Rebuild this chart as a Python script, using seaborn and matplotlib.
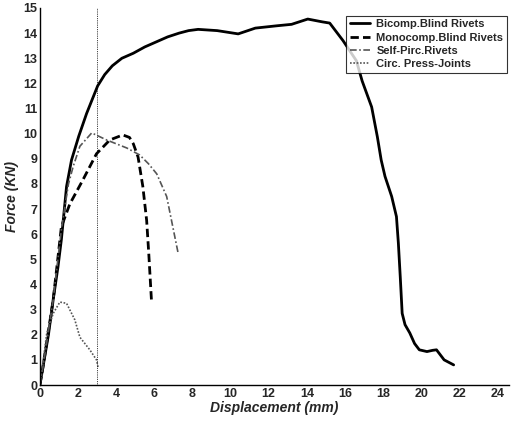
import numpy as np
import pandas as pd
import seaborn as sns
import matplotlib.pyplot as plt

# Bicomp. blind rivets
bicomp_x = [0, 0.16, 0.45, 0.7, 0.95, 1.13, 1.4, 1.66, 2.04, 2.45, 3.03, 3.4, 3.8, 4.3, 4.9,
            5.5, 6.1, 6.7, 7.3, 7.8, 8.3, 9.3, 10.4, 11.3, 12.4, 13.2, 14.05, 14.8, 15.2,
            15.9, 16.6, 16.9, 17.4, 17.7, 17.9, 18.1, 18.45, 18.7, 18.8, 18.9, 19.0, 19.15,
            19.4, 19.65, 19.9, 20.3, 20.6, 20.8, 21.0, 21.2, 21.7]
bicomp_y = [0, 0.7, 2.0, 3.4, 4.7, 5.8, 7.9, 8.95, 9.9, 10.8, 11.9, 12.35, 12.7, 13.0, 13.2,
            13.45, 13.65, 13.85, 14.0, 14.1, 14.15, 14.1, 13.97, 14.2, 14.29, 14.35, 14.56,
            14.45, 14.4, 13.7, 12.9, 12.1, 11.06, 9.87, 8.95, 8.3, 7.5, 6.7, 5.65, 4.3, 2.85,
            2.4, 2.07, 1.65, 1.4, 1.33, 1.38, 1.4, 1.2, 1.0, 0.8]

# Monocomp. blind rivets
mono_x = [0, 0.16, 0.7, 1.13, 1.57, 2.25, 2.97, 3.67, 4.35, 4.7, 4.9, 5.15, 5.4, 5.6, 5.71, 5.85]
mono_y = [0, 0.7, 3.4, 6.3, 7.2, 8.15, 9.2, 9.75, 9.95, 9.85, 9.6, 9.07, 7.9, 6.55, 5.25, 3.4]

# Self-pierc. rivets
self_x = [0, 0.16, 0.7, 1.13, 1.5, 1.75, 2.1, 2.72, 3.5, 4.56, 5.24, 5.7, 6.13, 6.65, 6.97, 7.25]
self_y = [0, 0.7, 3.4, 6.2, 8.0, 8.7, 9.5, 10.03, 9.75, 9.43, 9.15, 8.8, 8.4, 7.5, 6.3, 5.25]

# Circ. press-joints
circ_x = [0, 0.15, 0.36, 0.7, 1.05, 1.4, 1.83, 2.1, 2.62, 2.97, 3.05]
circ_y = [0, 0.8, 2.05, 2.85, 3.3, 3.25, 2.6, 1.9, 1.4, 1.0, 0.72]

names = ["Bicomp.Blind Rivets", "Monocomp.Blind Rivets", "Self-Pirc.Rivets", "Circ. Press-Joints"]

df = pd.concat([
    pd.DataFrame({"x": bicomp_x, "y": bicomp_y, "s": names[0]}),
    pd.DataFrame({"x": mono_x, "y": mono_y, "s": names[1]}),
    pd.DataFrame({"x": self_x, "y": self_y, "s": names[2]}),
    pd.DataFrame({"x": circ_x, "y": circ_y, "s": names[3]}),
])

sns.set_style("white")
plt.rcParams['font.family'] = ['Liberation Sans', 'DejaVu Sans']

fig = plt.figure(figsize=(5.11, 4.21), dpi=100)
ax = fig.add_axes([0.078, 0.0855, 0.918, 0.8955])

styles = {names[0]: dict(color="black", lw=2.0, ls="-"),
          names[1]: dict(color="black", lw=2.0, ls=(0, (3, 1.5))),
          names[2]: dict(color="#555555", lw=1.2, ls=(0, (4, 1.5, 1, 1.5))),
          names[3]: dict(color="#555555", lw=1.2, ls=(0, (1, 1)))}

for n in names:
    sub = df[df.s == n]
    sns.lineplot(data=sub, x="x", y="y", ax=ax, sort=False, label=n,
                 estimator=None, solid_joinstyle="round", dash_joinstyle="round",
                 **styles[n])

ax.axvline(3, color="black", lw=0.6, ls=(0, (1, 1.2)))

ax.set_xlim(0, 24.6)
ax.set_ylim(0, 15)
ax.set_xticks(np.arange(0, 25, 2))
ax.set_yticks(np.arange(0, 16, 1))
ax.tick_params(direction="in", length=4, width=0.8, labelsize=9, pad=2)
for lab in ax.get_xticklabels() + ax.get_yticklabels():
    lab.set_fontweight("bold")
ax.set_xlabel("Displacement (mm)", fontsize=10, fontweight="bold", style="italic", labelpad=1)
ax.set_ylabel("Force (KN)", fontsize=10, fontweight="bold", style="italic", labelpad=3)

for sp in ["top", "right"]:
    ax.spines[sp].set_visible(False)
for sp in ["left", "bottom"]:
    ax.spines[sp].set_color("black")
    ax.spines[sp].set_linewidth(1.0)

leg = ax.legend(loc="upper right", bbox_to_anchor=(1.0, 0.985), fontsize=8, frameon=True,
                fancybox=False, edgecolor="black", handlelength=1.8, borderpad=0.3,
                labelspacing=0.3, handletextpad=0.6, borderaxespad=0.2)
leg.get_frame().set_linewidth(0.8)
for t in leg.get_texts():
    t.set_fontweight("bold")

fig.savefig("out.png", dpi=100)
